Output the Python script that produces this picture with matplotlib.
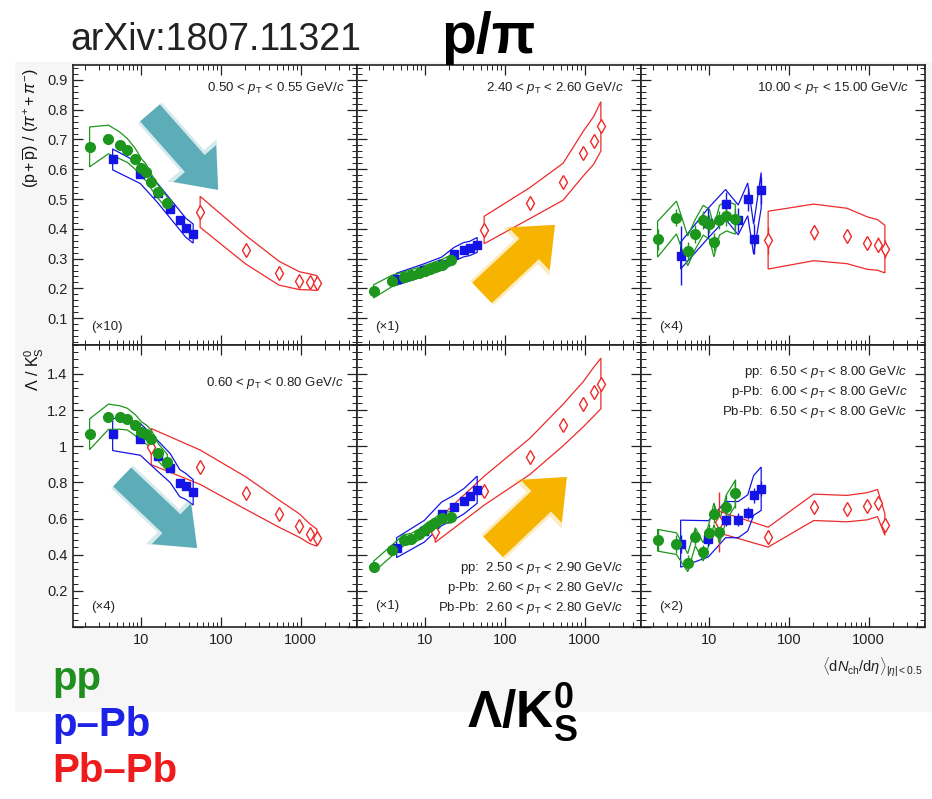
import numpy as np
import matplotlib
matplotlib.use('Agg')
import matplotlib.pyplot as plt
from matplotlib.patches import FancyArrow, Rectangle, Polygon
from matplotlib.ticker import FixedLocator, LogLocator, MultipleLocator, FuncFormatter, NullFormatter

plt.rcParams['font.family'] = ['Liberation Sans', 'DejaVu Sans']
plt.rcParams['mathtext.fontset'] = 'custom'
plt.rcParams['mathtext.rm'] = 'Liberation Sans'
plt.rcParams['mathtext.it'] = 'Liberation Sans:italic'
plt.rcParams['mathtext.bf'] = 'Liberation Sans:bold'

# ---------------- data ----------------
x_pp = [2.26, 3.90, 5.40, 6.72, 8.45, 10.1, 11.5, 13.5, 16.5, 21.3]
x_ppb = [4.4, 9.8, 16.1, 23.2, 30.5, 36.2, 45.0]
x_pbpb_ppi = [55, 205, 537, 966, 1294, 1601]
x_pbpb_lk = [13.4, 55, 205, 537, 966, 1294, 1601]

# p/pi, 0.50 < pT < 0.55 (x10)
ppi_low_pp = [0.675, 0.700, 0.680, 0.663, 0.635, 0.605, 0.590, 0.558, 0.523, 0.486]
ppi_low_pp_sys = [0.067, 0.048, 0.045, 0.040, 0.035, 0.030, 0.028, 0.025, 0.022, 0.020]
ppi_low_ppb = [0.633, 0.585, 0.520, 0.468, 0.429, 0.404, 0.384]
ppi_low_ppb_sys = [0.035, 0.033, 0.032, 0.032, 0.032, 0.032, 0.032]
ppi_low_pbpb = [0.457, 0.330, 0.251, 0.226, 0.222, 0.218]
ppi_low_pbpb_sys = [0.052, 0.048, 0.040, 0.030, 0.027, 0.025]

# p/pi, 2.40 < pT < 2.60 (x1)
ppi_mid_pp = [0.190, 0.226, 0.237, 0.245, 0.253, 0.260, 0.265, 0.272, 0.280, 0.295]
ppi_mid_pp_sys = [0.022, 0.019, 0.018, 0.018, 0.018, 0.018, 0.018, 0.018, 0.018, 0.018]
ppi_mid_ppb = [0.231, 0.262, 0.283, 0.315, 0.330, 0.334, 0.346]
ppi_mid_ppb_sys = [0.020, 0.021, 0.022, 0.023, 0.024, 0.024, 0.025]
ppi_mid_pbpb = [0.396, 0.486, 0.558, 0.653, 0.696, 0.744]
ppi_mid_pbpb_sys = [0.046, 0.052, 0.062, 0.075, 0.080, 0.083]

# p/pi, 10 < pT < 15 (x4)
ppi_high_pp = [0.365, 0.438, 0.326, 0.382, 0.429, 0.415, 0.356, 0.429, 0.443, 0.432]
ppi_high_pp_stat = [0.035, 0.030, 0.030, 0.030, 0.030, 0.030, 0.030, 0.030, 0.035, 0.035]
ppi_high_pp_sys = [0.060, 0.055, 0.050, 0.050, 0.050, 0.050, 0.050, 0.050, 0.050, 0.050]
ppi_high_ppb = [0.310, 0.420, 0.482, 0.430, 0.499, 0.365, 0.529]
ppi_high_ppb_stat = [0.100, 0.050, 0.040, 0.040, 0.040, 0.050, 0.045]
ppi_high_ppb_sys = [0.045, 0.050, 0.050, 0.050, 0.055, 0.050, 0.060]
ppi_high_pbpb = [0.362, 0.388, 0.376, 0.352, 0.346, 0.332]
ppi_high_pbpb_stat = [0.045, 0.025, 0.020, 0.020, 0.025, 0.030]
ppi_high_pbpb_sys = [0.097, 0.095, 0.093, 0.088, 0.085, 0.080]

# Lambda/K0S, 0.6 < pT < 0.8 (x4)
lk_low_pp = [1.066, 1.163, 1.159, 1.150, 1.117, 1.080, 1.066, 1.038, 0.965, 0.910]
lk_low_pp_sys = [0.085, 0.070, 0.065, 0.060, 0.058, 0.055, 0.053, 0.050, 0.048, 0.045]
lk_low_ppb = [1.066, 1.038, 0.947, 0.879, 0.796, 0.778, 0.745]
lk_low_ppb_sys = [0.090, 0.088, 0.085, 0.080, 0.075, 0.072, 0.070]
lk_low_pbpb = [0.998, 0.884, 0.741, 0.627, 0.561, 0.517, 0.494]
lk_low_pbpb_sys = [0.100, 0.095, 0.090, 0.075, 0.065, 0.055, 0.047]

# Lambda/K0S, ~2.6 < pT < 2.8 (x1)
lk_mid_pp = [0.334, 0.426, 0.480, 0.488, 0.512, 0.539, 0.557, 0.576, 0.604, 0.607]
lk_mid_pp_sys = [0.030, 0.030, 0.030, 0.030, 0.030, 0.030, 0.030, 0.030, 0.030, 0.032]
lk_mid_ppb = [0.439, 0.530, 0.626, 0.662, 0.695, 0.723, 0.760]
lk_mid_ppb_sys = [0.055, 0.060, 0.065, 0.068, 0.070, 0.072, 0.075]
lk_mid_pbpb = [0.525, 0.754, 0.943, 1.117, 1.233, 1.300, 1.347]
lk_mid_pbpb_sys = [0.057, 0.080, 0.100, 0.115, 0.125, 0.135, 0.140]

# Lambda/K0S, ~6.5 < pT < 8 (x2)
lk_high_pp = [0.480, 0.461, 0.356, 0.499, 0.415, 0.521, 0.626, 0.525, 0.662, 0.741]
lk_high_pp_stat = [0.060, 0.050, 0.040, 0.045, 0.040, 0.050, 0.050, 0.060, 0.070, 0.080]
lk_high_pp_sys = [0.060, 0.060, 0.050, 0.050, 0.050, 0.060, 0.060, 0.060, 0.070, 0.070]
lk_high_ppb = [0.461, 0.488, 0.594, 0.594, 0.631, 0.728, 0.765]
lk_high_ppb_stat = [0.050, 0.040, 0.035, 0.035, 0.035, 0.040, 0.040]
lk_high_ppb_sys = [0.130, 0.100, 0.100, 0.100, 0.100, 0.110, 0.120]
lk_high_pbpb = [0.580, 0.497, 0.662, 0.655, 0.668, 0.686, 0.567]
lk_high_pbpb_stat = [0.165, 0.040, 0.030, 0.020, 0.020, 0.030, 0.035]
lk_high_pbpb_sys = [0.060, 0.055, 0.073, 0.073, 0.075, 0.075, 0.060]

x_tick_values = [10, 100, 1000]
x_tick_labels = ['10', '100', '1000']

GREEN = '#1c961c'
BLUE = '#1414e6'
RED = '#ee2a2a'
TEAL = '#5cadb8'
GOLD = '#f6b400'

W, H = 932, 799
fig = plt.figure(figsize=(W / 100, H / 100), dpi=100)
fig.patches.append(Rectangle((15 / W, 1 - 712 / H), 1 - 15 / W, (712 - 62) / H,
                             transform=fig.transFigure, facecolor='#f6f6f6',
                             edgecolor='none', zorder=-10))

col_left = [73, 357, 641]
PW = 284
rows = [(65, 345), (345, 627)]


def band(ax, x, y, s, color):
    x = np.asarray(x, float)
    y = np.asarray(y, float)
    s = np.asarray(s, float)
    xs = np.concatenate([x, x[::-1]])
    ys = np.concatenate([y + s, (y - s)[::-1]])
    ax.add_patch(Polygon(np.column_stack([xs, ys]), closed=True, fill=False,
                         edgecolor=color, lw=0.9, zorder=2))


def series(ax, x, y, sys, color, marker, stat=None, ms=6.5, open_=False):
    band(ax, x, y, sys, color)
    kw = dict(fmt=marker, ms=ms, color=color, elinewidth=1.0, capsize=0, zorder=3)
    if open_:
        kw.update(mfc='white', mec=color, mew=1.0)
    ax.errorbar(x, y, yerr=stat, **kw)


def arrow(ax, x0, y0, x1, y1, color, width=0.092, hw=0.2, hl=0.125):
    ax.add_patch(FancyArrow(x0, y0, x1 - x0, y1 - y0, width=width + 0.02, head_width=hw + 0.03,
                            head_length=hl + 0.015, length_includes_head=True,
                            transform=ax.transAxes, color=color, alpha=0.25, lw=0, zorder=5))
    ax.add_patch(FancyArrow(x0, y0, x1 - x0, y1 - y0, width=width, head_width=hw,
                            head_length=hl, length_includes_head=True,
                            transform=ax.transAxes, color=color, lw=0, zorder=6))


def ylab_fmt(v, _):
    if abs(v) < 1e-9:
        return ''
    return '%g' % round(v, 2)


axes = {}
for r, (t, b) in enumerate(rows):
    for c, l in enumerate(col_left):
        ax = fig.add_axes([l / W, 1 - b / H, PW / W, (b - t) / H])
        ax.set_facecolor('white')
        ax.set_xscale('log')
        ax.set_xlim(1.4, 5100)
        ax.xaxis.set_major_locator(FixedLocator(x_tick_values))
        ax.xaxis.set_minor_locator(LogLocator(base=10, subs=np.arange(2, 10), numticks=30))
        ax.xaxis.set_minor_formatter(NullFormatter())
        if r == 0:
            ax.set_ylim(0.01, 0.95)
            ax.yaxis.set_major_locator(MultipleLocator(0.1))
            ax.yaxis.set_minor_locator(MultipleLocator(0.02))
        else:
            ax.set_ylim(0.0, 1.56)
            ax.yaxis.set_major_locator(MultipleLocator(0.2))
            ax.yaxis.set_minor_locator(MultipleLocator(0.04))
        ax.yaxis.set_major_formatter(FuncFormatter(ylab_fmt))
        if r == 1:
            ax.set_xticklabels(x_tick_labels)
        ax.tick_params(which='both', direction='in', top=True, right=True,
                       labelbottom=(r == 1), labelleft=(c == 0), labelsize=10.5,
                       colors='#222222', pad=4)
        ax.tick_params(which='major', length=7, width=0.9)
        ax.tick_params(which='minor', length=3.5, width=0.7)
        for sp in ax.spines.values():
            sp.set_linewidth(1.2)
            sp.set_color('#222222')
        axes[(r, c)] = ax

# panel 1
ax = axes[(0, 0)]
series(ax, x_pbpb_ppi, ppi_low_pbpb, ppi_low_pbpb_sys, RED, 'd', ms=7.5, open_=True)
series(ax, x_ppb, ppi_low_ppb, ppi_low_ppb_sys, BLUE, 's', ms=5.5)
series(ax, x_pp, ppi_low_pp, ppi_low_pp_sys, GREEN, 'o', ms=7)
arrow(ax, 0.271, 0.829, 0.511, 0.554, TEAL)

# panel 2
ax = axes[(0, 1)]
series(ax, x_pbpb_ppi, ppi_mid_pbpb, ppi_mid_pbpb_sys, RED, 'd', ms=7.5, open_=True)
series(ax, x_ppb, ppi_mid_ppb, ppi_mid_ppb_sys, BLUE, 's', ms=5.5)
series(ax, x_pp, ppi_mid_pp, ppi_mid_pp_sys, GREEN, 'o', ms=7)
arrow(ax, 0.44, 0.186, 0.697, 0.429, GOLD, width=0.1, hw=0.21)

# panel 3
ax = axes[(0, 2)]
series(ax, x_pbpb_ppi, ppi_high_pbpb, ppi_high_pbpb_sys, RED, 'd', stat=ppi_high_pbpb_stat, ms=7.5, open_=True)
series(ax, x_ppb, ppi_high_ppb, ppi_high_ppb_sys, BLUE, 's', stat=ppi_high_ppb_stat, ms=5.5)
series(ax, x_pp, ppi_high_pp, ppi_high_pp_sys, GREEN, 'o', stat=ppi_high_pp_stat, ms=7)

# panel 4
ax = axes[(1, 0)]
series(ax, x_pbpb_lk, lk_low_pbpb, lk_low_pbpb_sys, RED, 'd', ms=7.5, open_=True)
series(ax, x_ppb, lk_low_ppb, lk_low_ppb_sys, BLUE, 's', ms=5.5)
series(ax, x_pp, lk_low_pp, lk_low_pp_sys, GREEN, 'o', ms=7)
arrow(ax, 0.173, 0.532, 0.437, 0.28, TEAL)

# panel 5
ax = axes[(1, 1)]
series(ax, x_pbpb_lk, lk_mid_pbpb, lk_mid_pbpb_sys, RED, 'd', ms=7.5, open_=True)
series(ax, x_ppb, lk_mid_ppb, lk_mid_ppb_sys, BLUE, 's', ms=5.5)
series(ax, x_pp, lk_mid_pp, lk_mid_pp_sys, GREEN, 'o', ms=7)
arrow(ax, 0.479, 0.284, 0.739, 0.532, GOLD, width=0.1, hw=0.21)

# panel 6
ax = axes[(1, 2)]
series(ax, x_pbpb_lk, lk_high_pbpb, lk_high_pbpb_sys, RED, 'd', stat=lk_high_pbpb_stat, ms=7.5, open_=True)
series(ax, x_ppb, lk_high_ppb, lk_high_ppb_sys, BLUE, 's', stat=lk_high_ppb_stat, ms=5.5)
series(ax, x_pp, lk_high_pp, lk_high_pp_sys, GREEN, 'o', stat=lk_high_pp_stat, ms=7)

# panel texts
pt = r'$p_{\rm T}$'
tc = '#222222'
fs = 9.5
axes[(0, 0)].text(0.955, 0.918, '0.50 < ' + pt + ' < 0.55 GeV/$c$', transform=axes[(0, 0)].transAxes,
                  ha='right', va='center', fontsize=fs, color=tc)
axes[(0, 1)].text(0.94, 0.918, '2.40 < ' + pt + ' < 2.60 GeV/$c$', transform=axes[(0, 1)].transAxes,
                  ha='right', va='center', fontsize=fs, color=tc)
axes[(0, 2)].text(0.944, 0.918, '10.00 < ' + pt + ' < 15.00 GeV/$c$', transform=axes[(0, 2)].transAxes,
                  ha='right', va='center', fontsize=fs, color=tc)
axes[(1, 0)].text(0.951, 0.865, '0.60 < ' + pt + ' < 0.80 GeV/$c$', transform=axes[(1, 0)].transAxes,
                  ha='right', va='center', fontsize=fs, color=tc)
for i, s in enumerate(['pp:  2.50 < ' + pt + ' < 2.90 GeV/$c$',
                       'p-Pb:  2.60 < ' + pt + ' < 2.80 GeV/$c$',
                       'Pb-Pb:  2.60 < ' + pt + ' < 2.80 GeV/$c$']):
    axes[(1, 1)].text(0.937, 0.209 - i * 0.071, s, transform=axes[(1, 1)].transAxes,
                      ha='right', va='center', fontsize=fs, color=tc)
for i, s in enumerate(['pp:  6.50 < ' + pt + ' < 8.00 GeV/$c$',
                       'p-Pb:  6.00 < ' + pt + ' < 8.00 GeV/$c$',
                       'Pb-Pb:  6.50 < ' + pt + ' < 8.00 GeV/$c$']):
    axes[(1, 2)].text(0.937, 0.904 - i * 0.071, s, transform=axes[(1, 2)].transAxes,
                      ha='right', va='center', fontsize=fs, color=tc)

for key, lab, yy in [((0, 0), '(×10)', 0.064), ((0, 1), '(×1)', 0.064), ((0, 2), '(×4)', 0.064),
                     ((1, 0), '(×4)', 0.07), ((1, 1), '(×1)', 0.074), ((1, 2), '(×2)', 0.07)]:
    axes[key].text(0.065, yy, lab, transform=axes[key].transAxes, ha='left', va='center',
                   fontsize=fs, color=tc)

# axis titles
fig.text(32 / W, 1 - 68 / H, r'$(\mathrm{p}+\overline{\mathrm{p}})\ /\ (\pi^{+}+\pi^{-})$',
         rotation=90, ha='center', va='top', fontsize=11.5, color='#111111')
fig.text(34 / W, 1 - 347 / H, r'$\Lambda\ /\ \mathrm{K}^{0}_{\mathrm{S}}$',
         rotation=90, ha='center', va='top', fontsize=11.5, color='#111111')
fig.text(922 / W, 1 - 667 / H, r'$\langle\mathrm{d}N_{\mathrm{ch}}/\mathrm{d}\eta\rangle_{|\eta|<0.5}$',
         ha='right', va='center', fontsize=10.5, color='#222222')

# big labels
fig.text(70 / W, 1 - 40 / H, 'arXiv:1807.11321', ha='left', va='center', fontsize=27, color='#222222')
fig.text(488 / W, 1 - 38 / H, 'p/π', ha='center', va='center', fontsize=41, fontweight='bold', color='black')
fig.text(522 / W, 1 - 713 / H, r'$\mathbf{\Lambda/K}^{\mathbf{0}}_{\mathbf{S}}$', ha='center', va='center',
         fontsize=37, color='black')
fig.text(52 / W, 1 - 679 / H, 'pp', ha='left', va='center', fontsize=29, fontweight='bold', color='#1f8f1f')
fig.text(52 / W, 1 - 725 / H, 'p–Pb', ha='left', va='center', fontsize=29, fontweight='bold', color='#1e22e6')
fig.text(52 / W, 1 - 771 / H, 'Pb–Pb', ha='left', va='center', fontsize=29, fontweight='bold', color='#ee1c1c')

fig.savefig('out.png', dpi=100)
